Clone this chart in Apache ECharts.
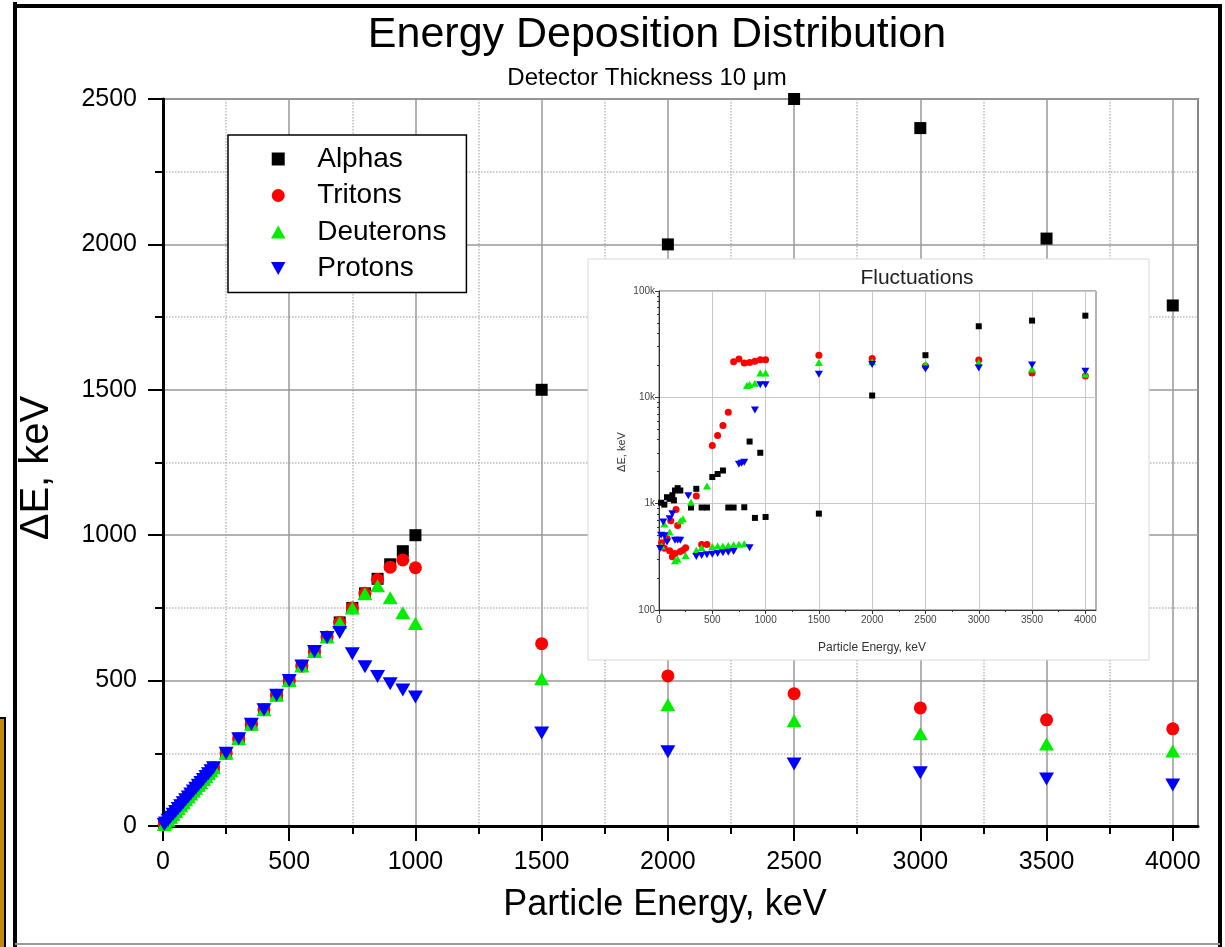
<!DOCTYPE html>
<html>
<head>
<meta charset="utf-8">
<title>Energy Deposition Distribution</title>
<script src="https://cdn.jsdelivr.net/npm/echarts@6/dist/echarts.min.js"></script>
<style>
	html, body { margin: 0; padding: 0; background: #fff; }
	#chart { width: 1225px; height: 947px; }
</style>
</head>
<body>
<div id="chart"></div>
<script>
	var FONT = '"Liberation Sans", Arial, sans-serif';

	// main plot: particle energy (keV) and deposited energy (keV)
	var energy = [5, 10, 20, 30, 40, 50, 60, 70, 80, 90, 100, 110, 120, 130, 140, 150, 160, 170, 180, 190, 200,
		250, 300, 350, 400, 450, 500, 550, 600, 650, 700, 750, 800, 850, 900, 950, 1000,
		1500, 2000, 2500, 3000, 3500, 4000];
	var alphas = [5, 10, 20, 30, 40, 50, 60, 70, 80, 90, 100, 110, 120, 130, 140, 150, 160, 170, 180, 190, 200,
		250, 300, 350, 400, 450, 500, 550, 600, 650, 700, 750, 800, 850, 900, 945, 1000,
		1500, 2000, 2500, 2400, 2020, 1790];
	var tritons = [5, 10, 20, 30, 40, 50, 60, 70, 80, 90, 100, 110, 120, 130, 140, 150, 160, 170, 180, 190, 200,
		250, 300, 350, 400, 450, 500, 550, 600, 650, 700, 750, 800, 848, 890, 915, 888,
		627, 516, 455, 406, 365, 334];
	var deuterons = [5, 10, 20, 30, 40, 50, 60, 70, 80, 90, 100, 110, 120, 130, 140, 150, 160, 170, 180, 190, 200,
		250, 300, 350, 400, 450, 500, 550, 600, 650, 700, 750, 799, 826, 785, 733, 696,
		506, 417, 362, 317, 282, 258];
	var protons = [5, 10, 20, 30, 40, 50, 60, 70, 80, 90, 100, 110, 120, 130, 140, 150, 160, 170, 180, 190, 200,
		250, 300, 350, 400, 450, 500, 550, 600, 648, 665, 592, 548, 514, 489, 468, 444,
		320, 255, 213, 183, 162, 141];

	// inset "Fluctuations" (log scale)
	var fAlphaE = [20, 50, 75, 100, 125, 140, 150, 175, 200, 300, 350, 400, 450, 500, 550, 600, 650, 700, 800, 850, 900, 950, 1000, 1500, 2000, 2500, 3000, 3500, 4000];
	var fAlphaV = [1020, 980, 1150, 1110, 1200, 1075, 1330, 1400, 1330, 920, 1380, 920, 920, 1780, 1900, 2050, 920, 920, 925, 3840, 735, 3010, 750, 806, 10400, 24900, 46600, 52700, 58600];
	var fTritonE = [25, 50, 75, 100, 110, 125, 150, 160, 175, 200, 225, 250, 350, 400, 450, 500, 550, 600, 650, 700, 750, 800, 850, 900, 950, 1000, 1500, 2000, 2500, 3000, 3500, 4000];
	var fTritonV = [430, 380, 470, 360, 690, 316, 340, 880, 622, 355, 365, 384, 1180, 413, 413, 3520, 4370, 5420, 7230, 21600, 22900, 21000, 21300, 21900, 22600, 22600, 24900, 23200, 19700, 22500, 16900, 15900];
	var fDeutE = [25, 50, 100, 150, 175, 200, 225, 250, 300, 350, 400, 450, 500, 550, 600, 650, 700, 750, 800, 825, 850, 900, 950, 1000, 1500, 2000, 2500, 3000, 3500, 4000];
	var fDeutV = [400, 645, 540, 290, 300, 690, 720, 325, 1030, 365, 385, 1470, 395, 400, 400, 405, 410, 415, 420, 12900, 13200, 13600, 16900, 16900, 21300, 21600, 20500, 21300, 18500, 16500];
	var fProtonE = [10, 20, 40, 50, 75, 100, 125, 150, 175, 200, 275, 350, 400, 450, 500, 550, 600, 650, 700, 750, 775, 800, 850, 900, 950, 1000, 1500, 2000, 2500, 3000, 3500, 4000];
	var fProtonV = [378, 505, 673, 500, 435, 723, 805, 453, 453, 453, 1190, 318, 325, 330, 335, 340, 345, 350, 355, 2350, 2400, 2450, 384, 7600, 13100, 13100, 16500, 20400, 18500, 18900, 20100, 17600];

	// tick values
	var xMajorTicks = [0, 500, 1000, 1500, 2000, 2500, 3000, 3500, 4000];
	var xMinorTicks = [250, 750, 1250, 1750, 2250, 2750, 3250, 3750];
	var logMinorTicks = [200, 300, 400, 500, 600, 700, 800, 900, 2000, 3000, 4000, 5000, 6000, 7000, 8000, 9000,
		20000, 30000, 40000, 50000, 60000, 70000, 80000, 90000];

	var names = ['Alphas', 'Tritons', 'Deuterons', 'Protons'];
	var colors = ['#000000', '#ff0000', '#00ee00', '#0000ff'];
	var symbols = ['path://M0,0 L10,0 L10,10 L0,10 Z', 'circle', 'path://M5,0 L10,9 L0,9 Z', 'path://M0,0 L10,0 L5,9 Z'];
	var mainSizes = [12, 13, [15, 13], [15, 13]];
	var insetSizes = [6, 7, [8, 7], [8, 7]];

	function pairs(xs, ys) {
		var out = [];
		for (var i = 0; i < xs.length; i++) {
			out.push([xs[i], ys[i]]);
		}
		return out;
	}

	function plain(v) {
		return String(v);
	}

	var mainData = [pairs(energy, alphas), pairs(energy, tritons), pairs(energy, deuterons), pairs(energy, protons)];
	var insetData = [pairs(fAlphaE, fAlphaV), pairs(fTritonE, fTritonV), pairs(fDeutE, fDeutV), pairs(fProtonE, fProtonV)];

	var series = [];
	names.forEach(function(n, i) {
		series.push({
			name: n,
			type: 'scatter',
			xAxisIndex: 0,
			yAxisIndex: 0,
			symbol: symbols[i],
			symbolSize: mainSizes[i],
			itemStyle: { color: colors[i], opacity: 1 },
			z: 2,
			data: mainData[i]
		});
	});
	names.forEach(function(n, i) {
		series.push({
			name: n,
			type: 'scatter',
			xAxisIndex: 2,
			yAxisIndex: 1,
			symbol: symbols[i],
			symbolSize: insetSizes[i],
			itemStyle: { color: colors[i], opacity: 1 },
			z: 6,
			data: insetData[i]
		});
	});

	var myChart = echarts.init(document.getElementById('chart'), null, { renderer: 'canvas' });
	myChart.setOption({
		backgroundColor: '#fff',
		animation: false,
		textStyle: { fontFamily: FONT },
		legend: {
			orient: 'vertical',
			left: 228,
			top: 135,
			backgroundColor: '#fff',
			borderColor: '#000',
			borderWidth: 1.5,
			padding: [10, 20, 10, 43],
			itemWidth: 68,
			itemHeight: 13,
			itemGap: 8.5,
			selectedMode: false,
			z: 5,
			textStyle: { fontSize: 28, color: '#000', fontFamily: FONT },
			data: names
		},
		grid: [{
			left: 163,
			top: 99,
			width: 1035,
			height: 727,
			show: true,
			borderColor: '#888',
			borderWidth: 2
		}, {
			left: 659,
			top: 291,
			width: 437,
			height: 319,
			show: true,
			borderColor: '#666',
			borderWidth: 1,
			z: 4
		}],
		xAxis: [{
			gridIndex: 0,
			type: 'value',
			min: 0,
			max: 4100,
			interval: 500,
			z: 1,
			axisLine: { lineStyle: { color: '#000', width: 3 } },
			axisTick: { length: 15, customValues: xMajorTicks, lineStyle: { color: '#000', width: 2 } },
			axisLabel: { margin: 24, fontSize: 25, color: '#000', fontFamily: FONT, customValues: xMajorTicks, formatter: plain },
			splitLine: { lineStyle: { color: '#999', width: 1.5 } }
		}, {
			gridIndex: 0,
			type: 'value',
			position: 'bottom',
			min: 0,
			max: 4100,
			interval: 250,
			z: 0,
			axisLine: { show: false },
			axisTick: { length: 8, customValues: xMinorTicks, lineStyle: { color: '#000', width: 2 } },
			axisLabel: { show: false },
			splitLine: { lineStyle: { color: '#bbb', width: 1.5, type: 'dotted' } }
		}, {
			gridIndex: 1,
			type: 'value',
			min: 0,
			max: 4100,
			interval: 500,
			z: 4,
			axisLine: { lineStyle: { color: '#333', width: 1 } },
			axisTick: { length: 4, customValues: xMajorTicks, lineStyle: { color: '#333' } },
			minorTick: { show: true, splitNumber: 2, length: 2, lineStyle: { color: '#333' } },
			axisLabel: { margin: 5, fontSize: 10, color: '#444', fontFamily: FONT, customValues: xMajorTicks, formatter: plain },
			splitLine: { lineStyle: { color: '#c8c8c8', width: 1 } }
		}],
		yAxis: [{
			gridIndex: 0,
			type: 'value',
			min: 0,
			max: 2500,
			interval: 500,
			z: 1,
			axisLine: { lineStyle: { color: '#000', width: 3 } },
			axisTick: { length: 15, lineStyle: { color: '#000', width: 2 } },
			minorTick: { show: true, splitNumber: 2, length: 8, lineStyle: { color: '#000', width: 2 } },
			minorSplitLine: { show: true, lineStyle: { color: '#bbb', width: 1.5, type: 'dotted' } },
			axisLabel: { margin: 26, fontSize: 25, color: '#000', fontFamily: FONT, formatter: plain },
			splitLine: { lineStyle: { color: '#999', width: 1.5 } }
		}, {
			gridIndex: 1,
			type: 'log',
			logBase: 10,
			min: 100,
			max: 100000,
			z: 4,
			axisLine: { lineStyle: { color: '#333', width: 1 } },
			axisTick: { length: 4, lineStyle: { color: '#333' } },
			axisLabel: {
				margin: 4,
				fontSize: 10,
				color: '#444',
				fontFamily: FONT,
				formatter: function(v) {
					return v >= 1000 ? (v / 1000) + 'k' : String(v);
				}
			},
			splitLine: { lineStyle: { color: '#c8c8c8', width: 1 } }
		}, {
			// only draws the minor ticks of the log axis
			gridIndex: 1,
			type: 'log',
			logBase: 10,
			position: 'left',
			min: 100,
			max: 100000,
			z: 4,
			axisLine: { show: false },
			axisTick: { length: 2, customValues: logMinorTicks, lineStyle: { color: '#333' } },
			axisLabel: { show: false },
			splitLine: { show: false }
		}],
		graphic: [
			{ type: 'rect', z: 3, shape: { x: 588, y: 259, width: 561, height: 401 }, style: { fill: '#fff', stroke: '#d8d8d8', lineWidth: 1 } },
			{ type: 'text', z: 7, x: 657, y: 35, style: { text: 'Energy Deposition Distribution', font: '43px ' + FONT, fill: '#000', align: 'center', verticalAlign: 'middle' } },
			{ type: 'text', z: 7, x: 647, y: 78, style: { text: 'Detector Thickness 10 \u03bcm', font: '24px ' + FONT, fill: '#000', align: 'center', verticalAlign: 'middle' } },
			{ type: 'text', z: 7, x: 37, y: 468, rotation: Math.PI / 2, style: { text: '\u0394E, keV', font: '40px ' + FONT, fill: '#000', align: 'center', verticalAlign: 'middle' } },
			{ type: 'text', z: 7, x: 665, y: 905, style: { text: 'Particle Energy, keV', font: '36px ' + FONT, fill: '#000', align: 'center', verticalAlign: 'middle' } },
			{ type: 'text', z: 7, x: 917, y: 278, style: { text: 'Fluctuations', font: '21px ' + FONT, fill: '#222', align: 'center', verticalAlign: 'middle' } },
			{ type: 'text', z: 7, x: 622, y: 452, rotation: Math.PI / 2, style: { text: '\u0394E, keV', font: '11px ' + FONT, fill: '#333', align: 'center', verticalAlign: 'middle' } },
			{ type: 'text', z: 7, x: 872, y: 648, style: { text: 'Particle Energy, keV', font: '12px ' + FONT, fill: '#333', align: 'center', verticalAlign: 'middle' } },
			// outer frame
			{ type: 'line', z: 7, shape: { x1: 15, y1: 2, x2: 15, y2: 947 }, style: { stroke: '#000', lineWidth: 4 } },
			{ type: 'line', z: 7, shape: { x1: 13, y1: 6, x2: 1222, y2: 6 }, style: { stroke: '#000', lineWidth: 4 } },
			{ type: 'line', z: 7, shape: { x1: 1220, y1: 4, x2: 1220, y2: 947 }, style: { stroke: '#000', lineWidth: 4 } },
			{ type: 'line', z: 7, shape: { x1: 15, y1: 944, x2: 1220, y2: 944 }, style: { stroke: '#999', lineWidth: 2 } },
			{ type: 'rect', z: 7, shape: { x: -3, y: 718, width: 8, height: 240 }, style: { fill: '#c08a10', stroke: '#000', lineWidth: 2 } }
		],
		series: series
	});
</script>
</body>
</html>
